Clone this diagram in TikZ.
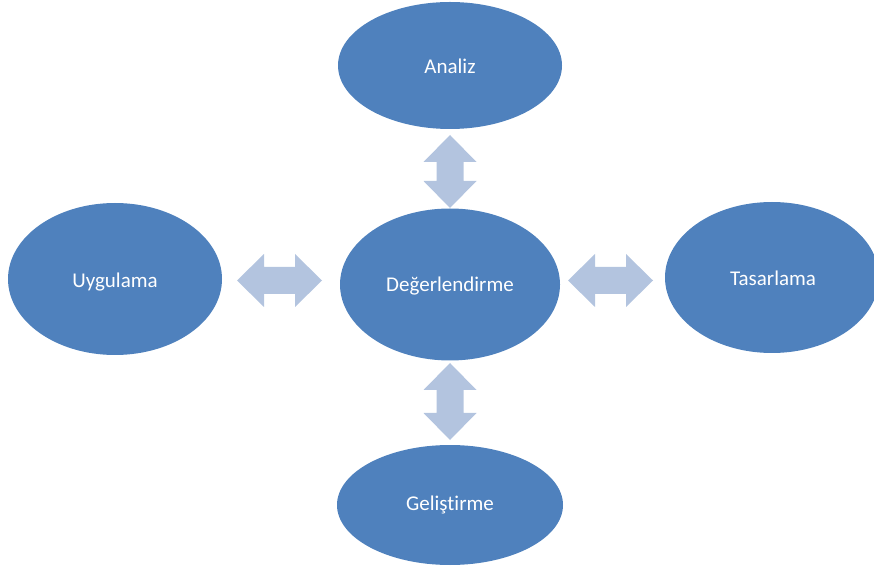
\documentclass[tikz,border=0pt]{standalone}
\usepackage{fontspec}
\setmainfont{Carlito}[Ligatures=CommonOff]
\definecolor{ovalblue}{HTML}{4F81BD}
\definecolor{arrowblue}{HTML}{B3C4DF}
\tikzset{
  phase/.style={text=white, inner sep=0pt,
    font=\fontsize{21}{25}\selectfont},
  pics/dblarrow/.style={code={
    \fill[arrowblue]
      (-#1/2,0) -- (-#1/2+27,26.5) -- (-#1/2+27,13.5) -- (#1/2-27,13.5)
      -- (#1/2-27,26.5) -- (#1/2,0) -- (#1/2-27,-26.5) -- (#1/2-27,-13.5)
      -- (-#1/2+27,-13.5) -- (-#1/2+27,-26.5) -- cycle;}}
}
\begin{document}
\begin{tikzpicture}[x=1pt,y=1pt]
  \useasboundingbox (0,0) rectangle (874,570);
  \begin{scope}
    \clip (0,0) rectangle (874,570);
    % ovals
    \fill[ovalblue] (450,504.5) ellipse [x radius=112, y radius=63.5];
    \fill[ovalblue] (115,291) ellipse [x radius=107, y radius=76];
    \fill[ovalblue] (450,285.5) ellipse [x radius=110, y radius=76];
    \fill[ovalblue] (772,292.5) ellipse [x radius=107, y radius=75.5];
    \fill[ovalblue] (450,65) ellipse [x radius=113, y radius=60];
  \end{scope}
  % labels
  \node[phase] (analiz) at (450,504) {Analiz};
  \node[phase] (uyg) at (115,288) {Uygulama};
  \node[phase] (deg) at (450,284) {Değerlendirme};
  \node[phase] (tas) at (773,292) {Tasarlama};
  \node[phase] (gel) at (450,65) {Geliştirme};
  % block double arrows between the phases
  \pic at (450,398.5) [rotate=90] {dblarrow=73};
  \pic at (450,168.5) [rotate=90] {dblarrow=77};
  \pic at (279.5,289.5) {dblarrow=85};
  \pic at (610.5,289.5) {dblarrow=85};
\end{tikzpicture}
\end{document}
